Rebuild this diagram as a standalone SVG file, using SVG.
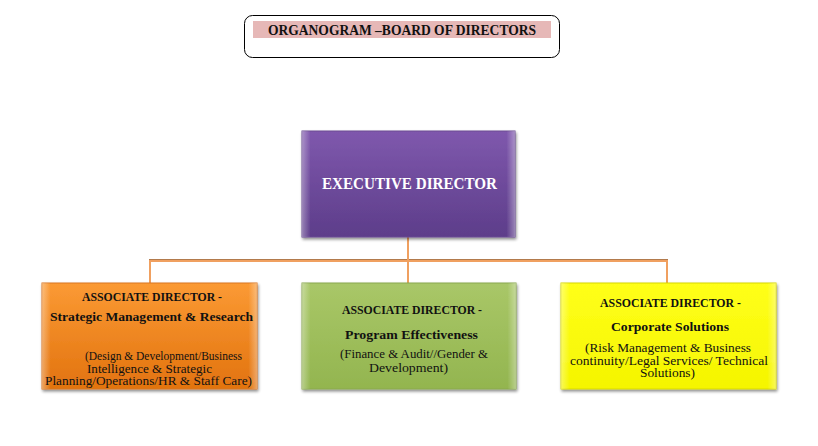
<svg xmlns="http://www.w3.org/2000/svg" width="818" height="446" viewBox="0 0 818 446">
  <defs>
    <linearGradient id="gPurple" x1="0" y1="0" x2="0" y2="1">
      <stop offset="0" stop-color="#7f58ad"/>
      <stop offset="1" stop-color="#5d3d8a"/>
    </linearGradient>
    <linearGradient id="gOrange" x1="0" y1="0" x2="0" y2="1">
      <stop offset="0" stop-color="#fb9a34"/>
      <stop offset="1" stop-color="#e2730f"/>
    </linearGradient>
    <linearGradient id="gGreen" x1="0" y1="0" x2="0" y2="1">
      <stop offset="0" stop-color="#a9c768"/>
      <stop offset="1" stop-color="#93b54f"/>
    </linearGradient>
    <linearGradient id="gYellow" x1="0" y1="0" x2="0" y2="1">
      <stop offset="0" stop-color="#ffff1a"/>
      <stop offset="1" stop-color="#f5f500"/>
    </linearGradient>
    <linearGradient id="bevel" x1="0" y1="0" x2="1" y2="0">
      <stop offset="0" stop-color="#ffffff" stop-opacity="0.35"/>
      <stop offset="0.04" stop-color="#ffffff" stop-opacity="0"/>
      <stop offset="0.96" stop-color="#ffffff" stop-opacity="0"/>
      <stop offset="1" stop-color="#ffffff" stop-opacity="0.35"/>
    </linearGradient>
    <filter id="shadow" x="-10%" y="-10%" width="120%" height="125%">
      <feGaussianBlur in="SourceAlpha" stdDeviation="1.5"/>
      <feOffset dx="1" dy="2" result="b"/>
      <feComponentTransfer><feFuncA type="linear" slope="0.45"/></feComponentTransfer>
      <feMerge><feMergeNode/><feMergeNode in="SourceGraphic"/></feMerge>
    </filter>
  </defs>
  <style>
    .box { stroke-width: 1; filter: url(#shadow); }
    .bev { fill: url(#bevel); }
    .t { font-family: "Liberation Serif", "DejaVu Serif", serif; text-anchor: middle; fill: #111111; }
    .b { font-weight: bold; font-size: 13.5px; }
    .r { font-size: 11.5px; }
    .conn { fill: none; stroke: #f0a060; stroke-width: 2; }
    .connS { fill: none; stroke: #b27a4c; stroke-width: 1; }
  </style>

  <g id="title">
    <rect x="244.5" y="15.5" width="315" height="42" rx="8" ry="8" fill="#ffffff" stroke="#000000" stroke-width="1"/>
    <rect x="253" y="21" width="298" height="17" fill="#e6b8b7"/>
    <text class="t" x="402" y="35" font-size="14.5" font-weight="bold" textLength="268" lengthAdjust="spacingAndGlyphs">ORGANOGRAM –BOARD OF DIRECTORS</text>
  </g>

  <g id="connectors">
    <path class="connS" d="M407.5 237 V259 M149 259.5 H668"/>
    <path class="conn" d="M408 237 V283 M150 283 V261 H667 V283 M408 261 V283"/>
  </g>

  <g id="executive">
    <rect class="box" x="302" y="131" width="213" height="106" fill="url(#gPurple)" stroke="#6a4a92"/>
    <rect class="bev" x="302" y="131" width="213" height="106"/>
    <text class="t" x="409.5" y="189" font-size="16.5" font-weight="bold" style="fill:#ffffff" textLength="175" lengthAdjust="spacingAndGlyphs">EXECUTIVE DIRECTOR</text>
  </g>

  <g id="assoc-strategic">
    <rect class="box" x="42" y="283" width="215" height="106" fill="url(#gOrange)" stroke="#d9761e"/>
    <rect class="bev" x="42" y="283" width="215" height="106"/>
    <text class="t b" x="152" y="301" textLength="140" lengthAdjust="spacingAndGlyphs">ASSOCIATE DIRECTOR -</text>
    <text class="t b" x="151.5" y="321" textLength="203" lengthAdjust="spacingAndGlyphs">Strategic Management &amp; Research</text>
    <text class="t r" x="163.5" y="360" textLength="157" lengthAdjust="spacingAndGlyphs">(Design &amp; Development/Business</text>
    <text class="t r" x="149.5" y="372.5" textLength="125" lengthAdjust="spacingAndGlyphs">Intelligence &amp; Strategic</text>
    <text class="t r" x="148.5" y="385" textLength="207" lengthAdjust="spacingAndGlyphs">Planning/Operations/HR &amp; Staff Care)</text>
  </g>

  <g id="assoc-program">
    <rect class="box" x="302" y="283" width="214" height="106" fill="url(#gGreen)" stroke="#8aa84e"/>
    <rect class="bev" x="302" y="283" width="214" height="106"/>
    <text class="t b" x="412" y="314" textLength="140" lengthAdjust="spacingAndGlyphs">ASSOCIATE DIRECTOR -</text>
    <text class="t b" x="411.5" y="339" textLength="133" lengthAdjust="spacingAndGlyphs">Program Effectiveness</text>
    <text class="t r" x="414" y="358" textLength="148" lengthAdjust="spacingAndGlyphs">(Finance &amp; Audit//Gender &amp;</text>
    <text class="t r" x="408.5" y="372" textLength="79" lengthAdjust="spacingAndGlyphs">Development)</text>
  </g>

  <g id="assoc-corporate">
    <rect class="box" x="561" y="283" width="215" height="106" fill="url(#gYellow)" stroke="#d8d800"/>
    <rect class="bev" x="561" y="283" width="215" height="106"/>
    <text class="t b" x="670.5" y="307" textLength="141" lengthAdjust="spacingAndGlyphs">ASSOCIATE DIRECTOR -</text>
    <text class="t b" x="670" y="330.5" textLength="118" lengthAdjust="spacingAndGlyphs">Corporate Solutions</text>
    <text class="t r" x="668" y="352" textLength="166" lengthAdjust="spacingAndGlyphs">(Risk Management &amp; Business</text>
    <text class="t r" x="669" y="364.5" textLength="198" lengthAdjust="spacingAndGlyphs">continuity/Legal Services/ Technical</text>
    <text class="t r" x="667.5" y="377" textLength="55" lengthAdjust="spacingAndGlyphs">Solutions)</text>
  </g>
</svg>
